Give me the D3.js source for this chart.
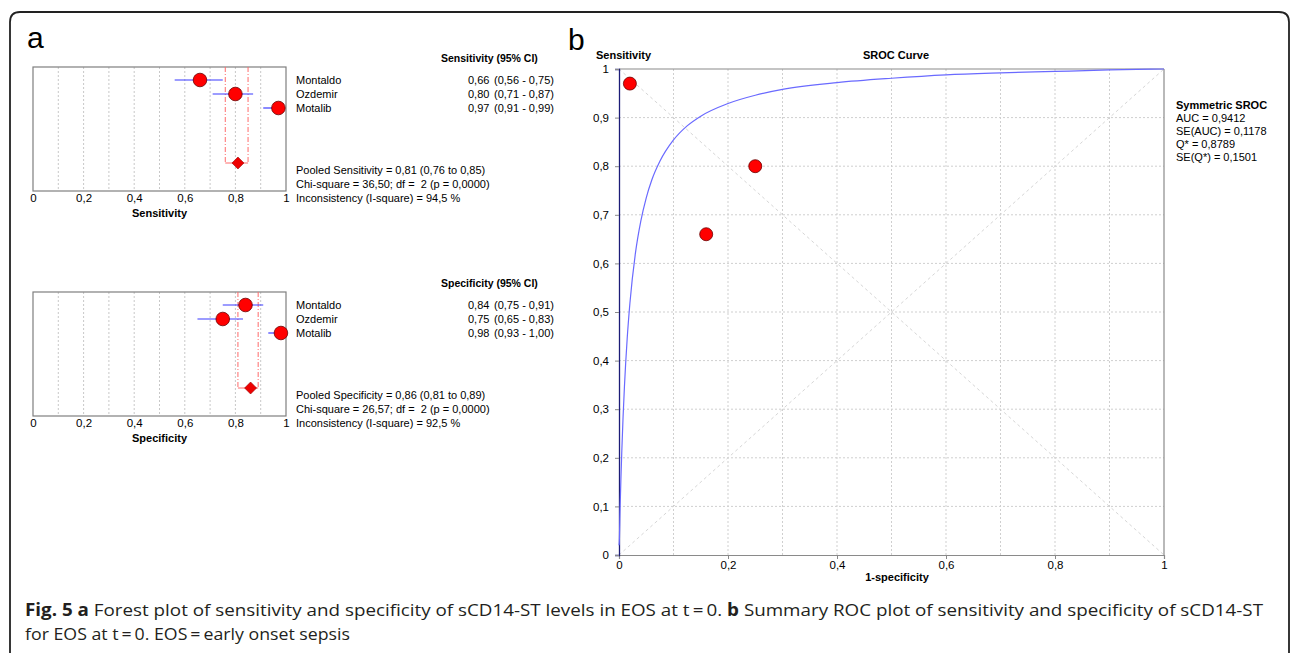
<!DOCTYPE html>
<html>
<head>
<meta charset="utf-8">
<script src="https://cdn.jsdelivr.net/npm/d3@7"></script>
<style>
html,body{margin:0;padding:0;background:#fff;}
svg{display:block;}
.t{font-family:"Liberation Sans",Arial,sans-serif;fill:#000;}
</style>
</head>
<body>
<svg id="c" width="1293" height="653"></svg>
<script>
// ---------- data ----------
const studies = ["Montaldo", "Ozdemir", "Motalib"];
const sensValues = [0.66, 0.80, 0.97];
const sensLower = [0.56, 0.71, 0.91];
const sensUpper = [0.75, 0.87, 0.99];
const pooledSens = [0.81, 0.76, 0.85];
const sensStats = ["Chi-square = 36,50; df =\u00a0\u00a02 (p = 0,0000)", "Inconsistency (I-square) = 94,5 %"];

const specValues = [0.84, 0.75, 0.98];
const specLower = [0.75, 0.65, 0.93];
const specUpper = [0.91, 0.83, 1.00];
const pooledSpec = [0.86, 0.81, 0.89];
const specStats = ["Chi-square = 26,57; df =\u00a0\u00a02 (p = 0,0000)", "Inconsistency (I-square) = 92,5 %"];

const forestTicks = [0, 0.2, 0.4, 0.6, 0.8, 1];
const rocXTicks = [0, 0.2, 0.4, 0.6, 0.8, 1];
const rocYTicks = [0, 0.1, 0.2, 0.3, 0.4, 0.5, 0.6, 0.7, 0.8, 0.9, 1];

// SROC points: 1-specificity and sensitivity per study
const rocFpr = [0.16, 0.25, 0.02];
const rocTpr = [0.66, 0.80, 0.97];
// symmetric SROC curve
const curveFpr = [0, 0.0005, 0.002, 0.0035, 0.005, 0.0075, 0.01, 0.015, 0.02, 0.03, 0.04, 0.05, 0.06, 0.075, 0.1, 0.125, 0.15, 0.2, 0.25, 0.3, 0.4, 0.5, 0.6, 0.7, 0.8, 0.9, 1.0];
const curveTpr = [0.02, 0.026, 0.096, 0.156, 0.209, 0.285, 0.347, 0.445, 0.518, 0.620, 0.687, 0.735, 0.771, 0.810, 0.854, 0.883, 0.903, 0.929, 0.946, 0.958, 0.972, 0.981, 0.988, 0.992, 0.995, 0.998, 1.0];
const srocLegend = ["AUC = 0,9412", "SE(AUC) = 0,1178", "Q* = 0,8789", "SE(Q*) = 0,1501"];

// ---------- helpers ----------
const svg = d3.select("#c");
const fmt = v => d3.format(".2f")(v).replace(".", ",");
const fmtTick = v => (v === 0 ? "0" : v === 1 ? "1" : String(v).replace(".", ","));

// outer frame
svg.append("path")
  .attr("d", "M10,653 V22 Q10,12 20,12 H1279 Q1289,12 1289,22 V653")
  .attr("fill", "none").attr("stroke", "#222").attr("stroke-width", 1.8);

// panel letters
svg.append("text").attr("class", "t").attr("x", 27).attr("y", 48).attr("font-size", 30).text("a");
svg.append("text").attr("class", "t").attr("x", 568).attr("y", 50).attr("font-size", 30).text("b");

svg.append("defs").append("clipPath").attr("id", "txtclip")
  .append("rect").attr("x", 280).attr("y", 0).attr("width", 275.5).attr("height", 653);

// ---------- forest plots ----------
function drawForest(dy, name, vals, lo, hi, pooled, stats) {
  const g = svg.append("g").attr("transform", `translate(0,${dy})`);
  const x = d3.scaleLinear().domain([0, 1]).range([33, 286]);
  const y = d3.scaleLinear().domain([0, 6]).range([80, 164]);
  const top = 67, bottom = 191;

  // gridlines
  g.append("g").selectAll("line").data(d3.range(1, 10).map(d => d / 10)).join("line")
    .attr("x1", d => x(d)).attr("x2", d => x(d)).attr("y1", top).attr("y2", bottom)
    .attr("stroke", "#c8c8c8").attr("stroke-dasharray", "2,2");

  // axis
  const ax = g.append("g").attr("transform", `translate(0,${bottom})`)
    .call(d3.axisBottom(x).tickValues(forestTicks).tickFormat(fmtTick).tickSize(0).tickPadding(3));
  ax.select(".domain").remove();
  ax.selectAll("text").attr("font-family", "Liberation Sans, Arial, sans-serif").attr("font-size", 11.5).attr("fill", "#000");

  // box
  g.append("rect").attr("x", x(0)).attr("y", top).attr("width", x(1) - x(0)).attr("height", bottom - top)
    .attr("fill", "none").attr("stroke", "#7f7f7f").attr("stroke-width", 1.2);

  g.append("text").attr("class", "t").attr("x", (x(0) + x(1)) / 2).attr("y", 217)
    .attr("text-anchor", "middle").attr("font-size", 11).attr("font-weight", "bold").text(name);

  // pooled CI dashed lines
  const yp = y(6) - 1;
  g.append("g").selectAll("line").data([pooled[1], pooled[2]]).join("line")
    .attr("x1", d => x(d)).attr("x2", d => x(d)).attr("y1", top).attr("y2", yp)
    .attr("stroke", "#ff6b6b").attr("stroke-width", 1).attr("stroke-dasharray", "5,2,1,2");
  g.append("line").attr("x1", x(pooled[1])).attr("x2", x(pooled[2])).attr("y1", yp).attr("y2", yp)
    .attr("stroke", "#ff6b6b").attr("stroke-width", 1);
  const dx = x(pooled[0]);
  g.append("path").attr("d", `M${dx - 6},${yp} L${dx},${yp - 6} L${dx + 6},${yp} L${dx},${yp + 6} Z`)
    .attr("fill", "#ee0000").attr("stroke", "#990000").attr("stroke-width", 0.6);

  // CIs
  g.append("g").selectAll("line").data(studies).join("line")
    .attr("x1", (d, i) => x(lo[i])).attr("x2", (d, i) => x(hi[i]))
    .attr("y1", (d, i) => y(i)).attr("y2", (d, i) => y(i))
    .attr("stroke", "#3b3bff").attr("stroke-width", 1.2);
  // points
  g.append("g").selectAll("circle").data(studies).join("circle")
    .attr("cx", (d, i) => x(vals[i])).attr("cy", (d, i) => y(i)).attr("r", 6.8)
    .attr("fill", "#ff0000").attr("stroke", "#6a0000").attr("stroke-width", 0.8);

  // right-hand text
  const tg = g.append("g").attr("clip-path", "url(#txtclip)");
  tg.append("text").attr("class", "t").attr("x", 441).attr("y", 62).attr("font-size", 10.5)
    .attr("font-weight", "bold").text(name + " (95% CI)");
  studies.forEach((s, i) => {
    const yy = y(i) + 4;
    tg.append("text").attr("class", "t").attr("x", 296).attr("y", yy).attr("font-size", 11).text(s);
    tg.append("text").attr("class", "t").attr("x", 468).attr("y", yy).attr("font-size", 11).text(fmt(vals[i]));
    tg.append("text").attr("class", "t").attr("x", 494).attr("y", yy).attr("font-size", 11)
      .text(`(${fmt(lo[i])} - ${fmt(hi[i])})`);
  });
  const lines = [`Pooled ${name} = ${fmt(pooled[0])} (${fmt(pooled[1])} to ${fmt(pooled[2])})`].concat(stats);
  lines.forEach((l, i) => {
    tg.append("text").attr("class", "t").attr("x", 296).attr("y", 174 + i * 14).attr("font-size", 11).text(l);
  });
}
drawForest(0, "Sensitivity", sensValues, sensLower, sensUpper, pooledSens, sensStats);
drawForest(225, "Specificity", specValues, specLower, specUpper, pooledSpec, specStats);

// ---------- SROC ----------
const rx = d3.scaleLinear().domain([0, 1]).range([619, 1164]);
const ry = d3.scaleLinear().domain([0, 1]).range([555, 69]);
const r = svg.append("g");
const grid = d3.range(1, 10).map(d => d / 10);
r.append("g").selectAll("line").data(grid).join("line")
  .attr("x1", d => rx(d)).attr("x2", d => rx(d)).attr("y1", ry(0)).attr("y2", ry(1))
  .attr("stroke", "#cfcfcf").attr("stroke-dasharray", "2,2");
r.append("g").selectAll("line").data(grid).join("line")
  .attr("y1", d => ry(d)).attr("y2", d => ry(d)).attr("x1", rx(0)).attr("x2", rx(1))
  .attr("stroke", "#cfcfcf").attr("stroke-dasharray", "2,2");
// diagonals
r.append("line").attr("x1", rx(0)).attr("y1", ry(1)).attr("x2", rx(1)).attr("y2", ry(0))
  .attr("stroke", "#d6d6d6").attr("stroke-dasharray", "3,3");
r.append("line").attr("x1", rx(0)).attr("y1", ry(0)).attr("x2", rx(1)).attr("y2", ry(1))
  .attr("stroke", "#d6d6d6").attr("stroke-dasharray", "3,3");
// borders
r.append("line").attr("x1", rx(0)).attr("x2", rx(1)).attr("y1", ry(1)).attr("y2", ry(1)).attr("stroke", "#8a8a8a").attr("stroke-width", 1.2);
r.append("line").attr("x1", rx(1)).attr("x2", rx(1)).attr("y1", ry(1)).attr("y2", ry(0)).attr("stroke", "#8a8a8a").attr("stroke-width", 1.2);

const xa = r.append("g").attr("transform", `translate(0,${ry(0)})`)
  .call(d3.axisBottom(rx).tickValues(rocXTicks).tickFormat(fmtTick).tickSize(4).tickPadding(2));
xa.select(".domain").attr("stroke", "#8a8a8a").attr("stroke-width", 1.2);
xa.selectAll(".tick line").attr("stroke", "#8a8a8a");
xa.selectAll("text").attr("font-family", "Liberation Sans, Arial, sans-serif").attr("font-size", 11.5).attr("fill", "#000");

const ya = r.append("g").attr("transform", `translate(${rx(0)},0)`)
  .call(d3.axisLeft(ry).tickValues(rocYTicks).tickFormat(fmtTick).tickSize(4).tickPadding(6));
ya.select(".domain").attr("stroke", "#1c1c78").attr("stroke-width", 1.3);
ya.selectAll(".tick line").attr("stroke", "#8a8a8a");
ya.selectAll("text").attr("font-family", "Liberation Sans, Arial, sans-serif").attr("font-size", 11.5).attr("fill", "#000");

// curve
const line = d3.line().x(d => rx(d[0])).y(d => ry(d[1])).curve(d3.curveMonotoneX);
r.append("path").datum(curveFpr.map((f, i) => [f, curveTpr[i]]))
  .attr("d", line).attr("fill", "none").attr("stroke", "#6a6aff").attr("stroke-width", 1.2);

// points
r.append("g").selectAll("circle").data(studies).join("circle")
  .attr("cx", (d, i) => rx(rocFpr[i])).attr("cy", (d, i) => ry(rocTpr[i])).attr("r", 6.5)
  .attr("fill", "#ff0000").attr("stroke", "#6a0000").attr("stroke-width", 0.8);

// titles
svg.append("text").attr("class", "t").attr("x", 596).attr("y", 59).attr("font-size", 11).attr("font-weight", "bold").text("Sensitivity");
svg.append("text").attr("class", "t").attr("x", 896).attr("y", 59).attr("text-anchor", "middle").attr("font-size", 11).attr("font-weight", "bold").text("SROC Curve");
svg.append("text").attr("class", "t").attr("x", 897).attr("y", 581).attr("text-anchor", "middle").attr("font-size", 11).attr("font-weight", "bold").text("1-specificity");

svg.append("text").attr("class", "t").attr("x", 1176).attr("y", 109).attr("font-size", 11).attr("font-weight", "bold").text("Symmetric SROC");
srocLegend.forEach((l, i) => {
  svg.append("text").attr("class", "t").attr("x", 1176).attr("y", 122 + i * 13).attr("font-size", 11).text(l);
});

// ---------- caption ----------
const cap = svg.append("g").attr("font-family", "'Open Sans', 'Noto Sans', sans-serif").attr("font-size", 17).attr("fill", "#231f20");
const l1 = cap.append("text").attr("x", 25).attr("y", 616).attr("textLength", 1238).attr("lengthAdjust", "spacingAndGlyphs");
l1.append("tspan").attr("font-weight", "bold").text("Fig. 5 a");
l1.append("tspan").text(" Forest plot of sensitivity and specificity of sCD14-ST levels in EOS at t\u2009=\u20090. ");
l1.append("tspan").attr("font-weight", "bold").text("b");
l1.append("tspan").text(" Summary ROC plot of sensitivity and specificity of sCD14-ST");
cap.append("text").attr("x", 25).attr("y", 640).attr("textLength", 325).attr("lengthAdjust", "spacingAndGlyphs")
  .text("for EOS at t\u2009=\u20090. EOS\u2009=\u2009early onset sepsis");
</script>
</body>
</html>
